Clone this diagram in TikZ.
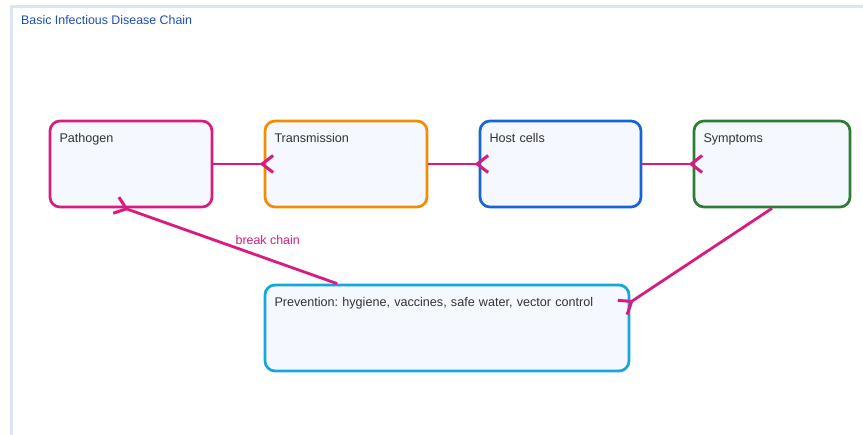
\documentclass[tikz,border=0pt]{standalone}
\usepackage{fontspec}
\setmainfont{Liberation Sans}
\usepackage{tikz}
\usetikzlibrary{arrows.meta}
\frenchspacing

\definecolor{pathcol}{HTML}{D81B7F}
\definecolor{transcol}{HTML}{F28C00}
\definecolor{hostcol}{HTML}{1565D8}
\definecolor{sympcol}{HTML}{2E7D32}
\definecolor{prevcol}{HTML}{14A7D8}
\definecolor{boxfill}{HTML}{F5F8FE}
\definecolor{panelcol}{HTML}{DCE6F2}
\definecolor{titlecol}{HTML}{1A4FB0}
\definecolor{labelcol}{HTML}{333333}

\tikzset{
  stagebox/.style 2 args={draw=#1, fill=boxfill, line width=2.7pt, rounded corners=10pt,
    minimum width=#2, text width=#2-19pt, align=left, inner xsep=9.5pt, inner ysep=11pt,
    text height=11pt, text depth=53pt, font=\fontsize{12.6}{14}\selectfont, text=labelcol},
  flow/.style={draw=pathcol, line width=2.8pt,
    -{Straight Barb[reversed, length=11pt, width=17pt, line width=3pt]}, shorten >=-11pt}
}

\begin{document}
\begin{tikzpicture}[x=1pt,y=-1pt]
\useasboundingbox (0,0) rectangle (863,435);

\draw[panelcol, line width=3pt] (11.5,435) -- (11.5,6.5) -- (863,6.5); % panel frame
\node[anchor=west, text=titlecol, font=\fontsize{12.4}{14}\selectfont, inner sep=0pt] (title) at (21,20.5) {Basic Infectious Disease Chain};

% the chain
\node[stagebox={pathcol}{162pt}]  (path)  at (131,164)   {Pathogen};
\node[stagebox={transcol}{162pt}] (trans) at (346,164)   {Transmission};
\node[stagebox={hostcol}{161pt}]  (host)  at (560.5,164) {Host cells};
\node[stagebox={sympcol}{156pt}]  (symp)  at (772,164)   {Symptoms};
\node[stagebox={prevcol}{364pt}]  (prev)  at (447,328)   {Prevention: hygiene, vaccines, safe water, vector control};

\draw[flow] (path.east) -- (trans.west);
\draw[flow] (trans.east) -- (host.west);
\draw[flow] (host.east) -- (symp.west);
\draw[flow] (symp.south) -- (prev.8);
\draw[flow] (prev.158) -- node[pos=0.49, anchor=south west, inner sep=1pt, text=pathcol, font=\fontsize{12.4}{14}\selectfont] (brk) {break chain} ([xshift=-6pt]path.south);

\end{tikzpicture}
\end{document}
